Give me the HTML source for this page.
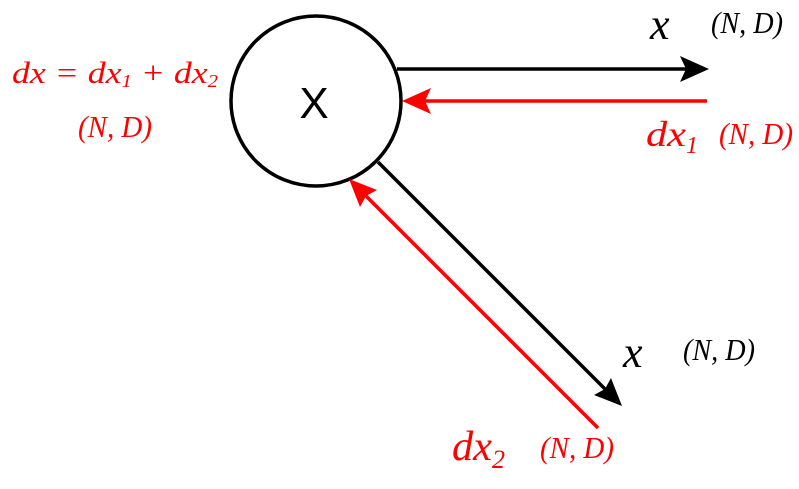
<!DOCTYPE html>
<html><head><style>html,body{margin:0;padding:0;background:#fff}</style></head><body>
<svg width="799" height="484" xmlns="http://www.w3.org/2000/svg" font-family="Liberation Serif, serif" font-style="italic">
<circle cx="316" cy="101" r="85" fill="#fff" stroke="#000" stroke-width="3.5"/>
<text x="314" y="118" font-family="Liberation Sans, sans-serif" font-style="normal" font-size="44" text-anchor="middle">X</text>
<line x1="397" y1="69" x2="688" y2="69" stroke="#000" stroke-width="3.5"/>
<polygon points="709,69 680,56 686,69 680,82" fill="#000"/>
<line x1="707" y1="101" x2="422" y2="101" stroke="red" stroke-width="3.5"/>
<polygon points="402,101 431,88 425,101 431,114" fill="red"/>
<line x1="378" y1="162" x2="607" y2="391" stroke="#000" stroke-width="3.5"/>
<polygon points="622,406 594,395 605,389 611,378" fill="#000"/>
<line x1="598" y1="428" x2="364" y2="194" stroke="red" stroke-width="3.5"/>
<polygon points="349,179 377,190 366,196 360,207" fill="red"/>
<g fill="red">
<text x="12" y="83" font-size="31" textLength="206" lengthAdjust="spacingAndGlyphs">dx = dx<tspan font-size="18" dy="4">1</tspan><tspan dy="-4"> + dx</tspan><tspan font-size="18" dy="4">2</tspan></text>
<text x="78" y="137" font-size="31" textLength="74" lengthAdjust="spacingAndGlyphs">(N, D)</text>
<text x="646" y="146" font-size="36" textLength="40" lengthAdjust="spacingAndGlyphs">dx</text>
<text x="686" y="153" font-size="24">1</text>
<text x="719" y="144" font-size="31" textLength="74" lengthAdjust="spacingAndGlyphs">(N, D)</text>
<text x="452" y="460" font-size="42" textLength="40" lengthAdjust="spacingAndGlyphs">dx</text>
<text x="492" y="468" font-size="26">2</text>
<text x="540" y="458" font-size="31" textLength="74" lengthAdjust="spacingAndGlyphs">(N, D)</text>
</g>
<text x="650" y="39" font-size="44">x</text>
<text x="711" y="33" font-size="31" textLength="72" lengthAdjust="spacingAndGlyphs">(N, D)</text>
<text x="623" y="367" font-size="44">x</text>
<text x="683" y="360" font-size="31" textLength="72" lengthAdjust="spacingAndGlyphs">(N, D)</text>
</svg>
</body></html>
